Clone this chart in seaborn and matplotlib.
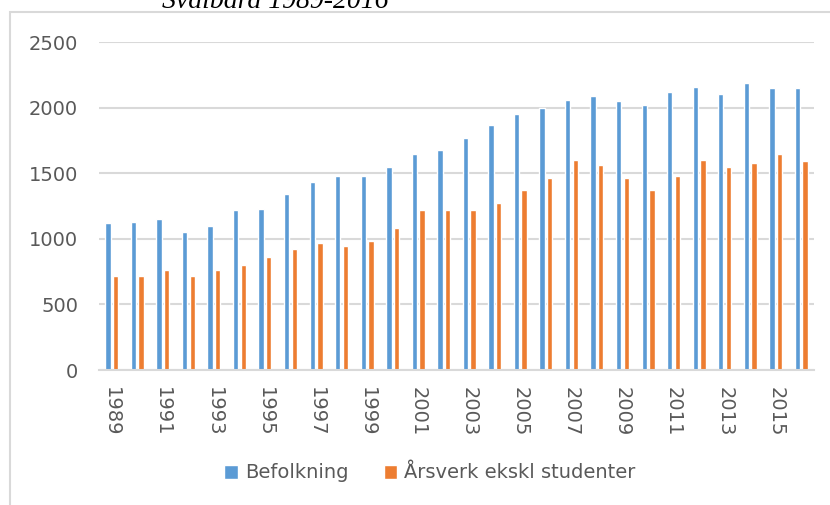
import matplotlib
matplotlib.use("Agg")
import matplotlib.pyplot as plt
import seaborn as sns
import pandas as pd
from matplotlib.patches import Rectangle, Patch

years = list(range(1989, 2017))
befolkning = [1120, 1130, 1150, 1050, 1100, 1220, 1230, 1340, 1435, 1475,
              1475, 1550, 1650, 1680, 1765, 1865, 1955, 2000, 2060, 2090,
              2050, 2020, 2120, 2160, 2100, 2190, 2150, 2150]
aarsverk = [720, 720, 760, 720, 760, 800, 860, 925, 965, 945,
            985, 1085, 1220, 1220, 1220, 1270, 1375, 1465, 1600, 1565,
            1465, 1370, 1475, 1600, 1545, 1580, 1650, 1590]
series_names = ["Befolkning", "Årsverk ekskl studenter"]
colors = ["#5B9BD5", "#ED7D31"]
title_text = "Svalbard 1989-2016"

df = pd.DataFrame({
    "year": [str(y) for y in years] * 2,
    "value": befolkning + aarsverk,
    "series": [series_names[0]] * len(years) + [series_names[1]] * len(years),
})

sns.set_style("white")
plt.rcParams["font.family"] = ["DejaVu Sans"]

fig = plt.figure(figsize=(8.3, 5.05), dpi=100)
W, H = 830, 505
ax = fig.add_axes([99 / W, 1 - 370 / H, (814 - 99) / W, (370 - 42) / H])

sns.barplot(data=df, x="year", y="value", hue="series",
            palette=colors, width=0.6, ax=ax, legend=False, saturation=1)

for p in ax.patches:
    w = p.get_width()
    nw = 0.21
    p.set_x(p.get_x() + (w - nw) / 2)
    p.set_width(nw)

ax.set_ylim(0, 2500)
ax.set_xlim(-0.5, len(years) - 0.5)
ax.set_yticks([0, 500, 1000, 1500, 2000, 2500])
ax.yaxis.grid(True, color="#D9D9D9", linewidth=1.5)
ax.set_axisbelow(True)
for s in ["top", "right", "left"]:
    ax.spines[s].set_visible(False)
ax.spines["bottom"].set_color("#D9D9D9")
ax.spines["bottom"].set_linewidth(1.5)
ax.tick_params(axis="both", length=0, colors="#595959", labelsize=14)
ax.tick_params(axis="y", pad=15)
ax.tick_params(axis="x", pad=12)
ax.set_xticks(range(0, len(years), 2))
ax.set_xticklabels([str(y) for y in years[::2]], rotation=-90, va="top", ha="center")
ax.set_xlabel("")
ax.set_ylabel("")

handles = [Patch(facecolor=c) for c in colors]
fig.legend(handles, series_names, loc="center", bbox_to_anchor=(430 / W, 1 - 473 / H),
           ncol=2, frameon=False, fontsize=14, handlelength=0.7, handleheight=0.7,
           handletextpad=0.37, columnspacing=1.8, labelcolor="#595959")

fig.patches.append(Rectangle((10 / W, -0.1), 1.0, 1 - 12 / H + 0.1, transform=fig.transFigure,
                             fill=False, edgecolor="#D9D9D9", linewidth=1.5))

fig.text(275 / W, 1 - 7.5 / H, title_text, ha="center", va="baseline", fontsize=20,
         style="italic", family=["Liberation Serif", "DejaVu Serif"], color="#000000")

fig.savefig("out.png", dpi=100)
